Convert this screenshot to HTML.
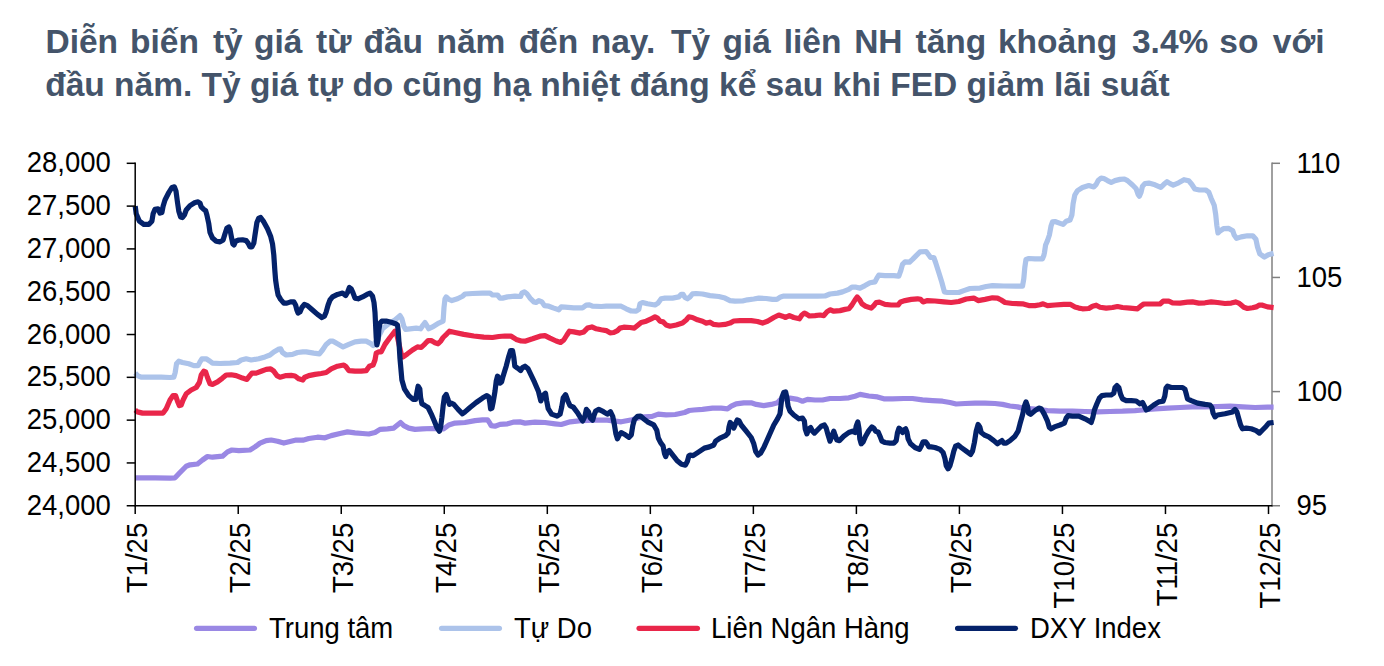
<!DOCTYPE html><html><head><meta charset="utf-8"><title>chart</title><style>
html,body{margin:0;padding:0;background:#fff;}
body{width:1384px;height:666px;overflow:hidden;position:relative;font-family:"Liberation Sans",sans-serif;}
.t{position:absolute;left:45.2px;width:1280px;color:#44546a;font-weight:bold;font-size:33.5px;line-height:44px;white-space:nowrap}
.t1{top:19.5px;width:1279px;text-align:justify;text-align-last:justify;white-space:pre-wrap}
.t2{top:62.7px;}
svg{position:absolute;left:0;top:0}
svg text{font-family:"Liberation Sans",sans-serif;font-size:28.8px;fill:#000}

</style></head><body>
<div class="t t1"><span style="position:relative;left:0.25px">Diễn</span> <span style="position:relative;left:-0.75px">biến</span> <span style="position:relative;left:0.25px">tỷ</span> <span style="position:relative;left:-1.5px">giá</span> <span style="position:relative;left:-0.75px">từ</span> <span style="position:relative;left:-1.75px">đầu</span> <span style="position:relative;left:-1.25px">năm</span> <span style="position:relative;left:-1px">đến</span> <span style="position:relative;left:-1.5px">nay.</span> <span style="position:relative;left:1.25px">Tỷ</span> <span style="position:relative;left:0.75px">giá</span> <span style="position:relative;left:0.5px">liên</span> <span style="position:relative;left:0.25px">NH</span> <span style="position:relative;left:0.25px">tăng</span> <span style="position:relative;left:-1px">khoảng</span> <span style="position:relative;left:0.9px">3.4%</span> <span style="position:relative;left:-1.1px">so</span> <span style="position:relative;left:0.3px">với</span></div>
<div class="t t2">đầu năm. Tỷ giá tự do cũng hạ nhiệt đáng kể sau khi FED giảm lãi suất</div>
<svg width="1384" height="666" viewBox="0 0 1384 666">
<g stroke="#808080" stroke-width="1.5" fill="none">
<path d="M1272.0,162.55 V506.5"/>
<path d="M1272.0,163.30 H1280.0"/>
<path d="M1272.0,277.45 H1280.0"/>
<path d="M1272.0,391.60 H1280.0"/>
<path d="M1272.0,505.75 H1280.0"/>
</g>
<path d="M135.2,477.8 L155.0,477.8 L170.0,478.1 L175.0,477.8 L180.0,472.5 L186.2,466.2 L190.0,464.8 L197.5,464.0 L202.5,460.0 L207.5,456.5 L212.5,457.2 L222.5,456.2 L227.5,451.9 L231.9,450.0 L238.8,450.6 L250.0,450.0 L255.0,446.9 L260.0,443.1 L266.2,440.6 L271.2,440.0 L277.5,441.2 L283.8,443.1 L290.0,441.5 L296.2,440.0 L302.9,440.2 L308.8,438.5 L317.5,437.2 L325.0,437.8 L331.2,435.6 L340.0,433.5 L347.5,431.9 L355.0,432.8 L362.5,433.5 L368.8,434.0 L375.0,432.5 L380.0,429.4 L387.5,428.8 L393.8,428.1 L397.5,425.0 L400.6,422.5 L403.8,425.6 L408.8,428.1 L415.0,429.4 L422.5,428.8 L431.2,428.5 L438.8,428.8 L443.8,428.8 L448.8,425.0 L455.0,423.1 L465.0,422.5 L475.0,420.6 L482.5,419.8 L487.5,419.8 L489.4,422.5 L491.2,425.6 L495.0,426.2 L500.0,424.4 L507.5,423.8 L513.1,422.2 L520.0,421.9 L525.0,423.1 L535.0,422.2 L545.0,422.5 L555.0,423.8 L561.2,424.5 L570.2,421.8 L581.0,420.7 L594.9,420.2 L607.3,420.2 L621.2,421.8 L632.0,419.8 L641.3,417.2 L652.1,416.4 L658.3,414.1 L666.1,414.8 L675.3,414.5 L684.6,412.5 L689.2,410.5 L693.8,410.0 L702.5,409.4 L712.5,408.1 L721.2,408.1 L727.5,408.8 L731.2,406.2 L736.2,403.8 L743.8,402.8 L751.2,402.8 L756.2,404.4 L763.8,405.6 L771.2,404.4 L777.5,402.8 L780.0,400.0 L785.0,398.5 L790.0,398.1 L797.5,399.4 L802.5,401.2 L807.5,399.4 L815.0,400.0 L822.5,400.0 L830.0,398.5 L840.0,398.5 L848.8,397.8 L855.0,396.2 L860.0,394.4 L868.8,396.0 L877.5,396.9 L883.8,398.8 L892.5,398.8 L903.8,398.5 L912.5,398.5 L922.5,399.8 L932.5,400.6 L942.5,401.2 L950.0,402.5 L956.2,404.0 L965.0,403.5 L975.0,403.1 L985.0,403.1 L995.0,403.5 L1002.5,404.4 L1010.0,406.0 L1017.5,406.9 L1022.5,408.1 L1035.0,409.0 L1047.5,410.6 L1060.0,411.2 L1072.5,411.2 L1085.0,411.5 L1097.5,411.9 L1110.0,411.5 L1122.5,411.2 L1135.0,410.6 L1142.5,410.0 L1155.0,408.8 L1167.5,408.1 L1180.0,407.5 L1192.5,406.9 L1205.0,406.9 L1217.5,406.5 L1230.0,406.2 L1242.5,406.9 L1255.0,407.5 L1267.5,407.2 L1273.6,407.2" fill="none" stroke="#9a88e4" stroke-width="5.2" stroke-linejoin="round" stroke-linecap="butt"/>
<path d="M135.2,373.1 L137.5,375.6 L141.2,377.2 L148.8,377.2 L161.2,377.2 L170.0,377.5 L173.8,377.2 L175.2,372.5 L176.5,363.8 L178.8,361.2 L182.5,362.5 L188.8,363.8 L193.8,365.6 L198.1,365.6 L200.0,361.9 L201.9,358.8 L206.2,358.8 L210.0,361.2 L212.5,363.1 L220.0,363.5 L230.0,363.1 L237.5,362.5 L241.2,360.0 L246.2,358.8 L251.2,360.0 L258.8,358.8 L265.0,356.9 L270.0,355.0 L273.8,351.9 L278.1,349.4 L280.6,348.8 L282.5,352.5 L286.2,355.0 L292.5,354.4 L297.5,352.5 L302.9,351.9 L306.2,351.9 L313.8,353.1 L319.4,353.8 L322.5,350.0 L326.2,344.4 L330.0,341.2 L333.1,341.2 L337.5,343.8 L343.1,346.9 L348.8,344.4 L355.0,341.9 L361.2,341.2 L366.2,341.2 L370.0,343.1 L373.1,345.6 L377.5,338.8 L382.5,328.8 L388.8,323.8 L395.0,320.0 L400.0,315.6 L401.9,318.8 L403.8,326.2 L405.6,329.4 L410.0,328.8 L416.2,328.1 L420.6,328.8 L423.1,325.0 L425.0,322.5 L426.9,325.6 L428.8,328.8 L432.5,326.9 L438.8,323.1 L443.1,321.2 L444.0,307.5 L445.0,298.8 L446.2,296.9 L448.8,299.4 L451.9,300.6 L457.5,298.8 L462.5,296.2 L465.0,294.0 L472.5,293.5 L482.5,293.2 L490.0,293.1 L492.5,295.0 L497.5,295.0 L500.0,298.1 L502.5,298.1 L507.5,296.9 L515.0,296.2 L520.6,296.5 L521.9,293.1 L524.4,291.9 L526.9,293.8 L530.0,298.1 L533.8,301.9 L536.2,302.5 L538.8,300.6 L541.9,301.9 L544.4,305.6 L548.8,306.2 L553.8,308.1 L558.8,309.8 L561.2,306.9 L565.0,307.2 L573.8,307.8 L582.5,307.8 L586.2,305.2 L589.4,304.8 L592.5,306.2 L601.2,306.5 L606.2,306.2 L615.0,306.0 L621.2,306.2 L626.2,308.8 L631.2,311.0 L636.2,311.2 L638.8,309.4 L640.0,303.8 L642.5,302.5 L647.5,303.8 L655.0,305.0 L658.1,303.1 L661.2,298.8 L665.0,298.1 L672.5,298.1 L678.8,296.9 L681.2,294.4 L683.1,294.4 L685.0,297.5 L687.5,298.8 L690.0,296.9 L692.5,293.8 L696.2,293.5 L702.5,294.0 L710.0,295.6 L718.8,296.5 L725.0,298.1 L730.0,300.6 L735.0,301.2 L742.5,301.0 L747.5,299.8 L753.8,299.0 L758.8,298.1 L766.2,298.5 L772.5,299.4 L776.9,299.4 L780.6,296.9 L783.8,296.0 L793.8,296.2 L806.2,296.0 L817.5,296.2 L825.0,296.0 L830.0,294.0 L837.5,293.1 L842.5,291.9 L848.8,289.4 L851.9,287.2 L856.2,287.2 L860.0,288.1 L865.0,285.6 L870.0,282.8 L875.0,281.9 L876.9,278.1 L878.8,275.2 L885.0,275.6 L893.8,275.6 L898.8,276.2 L900.6,271.2 L902.5,264.4 L905.0,261.9 L909.4,262.2 L912.5,259.4 L916.2,255.6 L920.0,251.9 L926.2,251.5 L928.8,255.0 L930.6,257.5 L933.8,257.5 L935.6,262.5 L938.8,272.5 L941.9,282.5 L944.4,291.9 L947.5,292.5 L958.8,292.5 L963.8,290.6 L970.0,288.5 L980.0,288.1 L986.2,286.5 L992.5,285.6 L1003.8,286.0 L1016.2,286.2 L1022.5,286.2 L1023.8,278.8 L1024.8,267.5 L1026.0,259.4 L1028.8,258.5 L1035.0,258.8 L1042.5,258.8 L1043.8,255.6 L1044.4,253.0 L1045.6,245.0 L1047.5,240.6 L1049.4,235.0 L1051.0,226.2 L1052.5,221.9 L1055.0,221.5 L1059.4,223.1 L1063.1,224.4 L1066.2,221.2 L1070.0,220.0 L1071.9,215.0 L1073.1,203.8 L1074.8,195.0 L1077.5,190.6 L1082.5,187.5 L1088.8,185.6 L1093.8,186.9 L1096.2,184.4 L1098.1,180.6 L1101.2,178.1 L1103.8,178.5 L1107.5,180.6 L1111.2,182.5 L1115.0,180.6 L1120.0,179.4 L1124.4,179.0 L1127.5,180.6 L1132.5,185.0 L1136.2,188.8 L1138.1,194.4 L1139.4,196.2 L1141.0,192.5 L1142.5,186.2 L1145.0,183.5 L1148.8,183.1 L1155.0,184.8 L1160.8,187.4 L1163.9,184.3 L1167.0,181.7 L1170.1,183.6 L1173.2,185.1 L1178.6,182.8 L1184.0,179.7 L1188.7,180.8 L1191.7,184.3 L1194.8,189.0 L1199.5,190.0 L1205.7,190.0 L1208.8,192.1 L1211.1,198.2 L1214.2,205.2 L1215.7,214.5 L1216.8,225.3 L1218.0,233.0 L1220.3,230.7 L1223.4,228.7 L1228.8,228.4 L1232.7,230.7 L1234.3,235.3 L1236.6,238.4 L1241.2,236.9 L1247.4,235.8 L1252.8,235.8 L1255.9,239.2 L1257.5,246.9 L1259.8,253.9 L1264.4,257.0 L1268.3,254.7 L1273.6,253.4" fill="none" stroke="#acc3ea" stroke-width="5.2" stroke-linejoin="round" stroke-linecap="butt"/>
<path d="M135.2,410.0 L137.5,411.9 L142.5,413.1 L155.0,413.1 L163.1,413.1 L166.2,408.8 L170.0,400.0 L173.1,395.6 L175.6,395.6 L177.5,401.2 L179.4,405.6 L181.2,405.0 L183.1,400.0 L186.2,393.8 L191.2,390.0 L196.2,387.5 L199.4,382.5 L201.2,375.0 L203.8,371.2 L205.6,371.9 L207.5,377.5 L210.0,383.8 L212.5,384.4 L217.5,381.9 L222.5,378.1 L226.2,375.0 L231.2,374.8 L236.2,375.6 L242.5,378.1 L246.9,379.4 L249.4,376.2 L251.9,373.1 L256.2,373.1 L261.2,371.2 L266.2,369.4 L270.6,368.8 L273.8,371.2 L276.9,375.6 L280.0,377.2 L286.2,375.6 L291.2,375.4 L295.0,376.0 L298.8,378.8 L302.9,380.0 L304.4,377.5 L308.8,375.6 L315.0,374.4 L321.2,373.5 L326.2,372.5 L331.2,368.8 L337.5,366.2 L343.8,365.0 L346.2,366.9 L348.8,370.6 L355.0,371.2 L361.2,371.2 L366.2,370.6 L369.4,366.2 L373.1,365.0 L375.0,360.0 L376.2,353.1 L378.8,351.9 L381.2,351.9 L385.0,344.4 L390.0,337.5 L395.0,331.2 L396.9,335.0 L401.2,353.8 L403.1,356.9 L407.5,353.8 L412.5,350.0 L417.5,346.9 L421.2,347.5 L425.0,343.8 L428.1,340.6 L431.2,340.6 L435.0,342.8 L438.1,343.8 L440.6,341.2 L443.1,337.5 L446.9,333.8 L449.4,331.2 L455.0,332.5 L463.8,334.4 L473.8,336.0 L483.8,337.2 L492.5,337.5 L498.8,336.5 L505.0,336.0 L511.2,336.2 L516.2,339.4 L521.2,341.0 L525.0,341.2 L532.5,338.8 L540.0,336.2 L545.0,335.6 L550.0,338.1 L556.2,341.0 L560.6,342.5 L563.8,340.0 L566.9,335.0 L569.4,331.2 L573.8,331.9 L580.0,333.1 L583.8,331.9 L587.5,328.1 L591.9,326.9 L596.2,328.8 L601.2,329.8 L602.5,330.0 L606.2,330.6 L610.0,332.8 L613.8,332.5 L617.5,330.6 L620.0,328.1 L623.8,327.2 L630.0,327.5 L634.4,328.1 L637.5,325.6 L641.2,322.5 L646.2,321.2 L651.2,318.8 L655.0,316.9 L657.5,318.1 L660.0,321.2 L663.1,321.9 L666.2,325.0 L670.0,326.2 L676.2,325.0 L682.5,323.1 L686.2,320.0 L688.8,316.9 L692.5,317.5 L697.5,319.8 L702.5,321.2 L706.2,323.1 L710.0,322.2 L713.8,324.4 L718.8,325.0 L725.0,324.4 L730.0,323.1 L733.8,321.0 L740.0,320.6 L751.2,320.6 L757.5,321.5 L762.5,323.1 L767.5,321.2 L773.8,317.5 L778.8,315.0 L782.5,316.2 L785.6,317.5 L789.4,315.6 L793.8,317.5 L799.4,318.8 L801.9,315.0 L804.4,313.1 L806.9,314.4 L809.4,316.0 L815.0,315.6 L820.0,315.0 L823.8,315.6 L826.9,311.9 L830.0,309.8 L833.8,311.2 L840.0,310.6 L845.0,309.4 L848.8,308.8 L851.9,305.0 L855.0,300.0 L857.2,296.9 L859.4,299.4 L861.9,303.8 L865.6,306.2 L871.2,308.1 L873.8,305.6 L876.2,302.5 L879.4,302.2 L885.0,304.4 L891.2,305.0 L898.1,305.0 L900.6,301.9 L905.0,300.6 L911.2,299.4 L917.5,298.8 L920.6,299.4 L923.1,301.9 L927.5,300.6 L935.0,301.0 L943.8,301.9 L951.2,302.5 L958.8,301.5 L966.2,299.0 L973.8,298.1 L978.1,300.6 L985.0,299.4 L992.5,297.8 L997.5,298.1 L1001.2,300.0 L1005.0,302.5 L1012.5,303.5 L1022.5,303.8 L1028.8,305.6 L1035.0,305.6 L1040.0,304.8 L1043.1,303.8 L1047.5,305.6 L1055.0,305.0 L1063.8,304.4 L1070.6,304.4 L1075.0,306.9 L1078.8,308.1 L1082.5,308.8 L1088.8,308.5 L1092.5,306.2 L1096.2,305.2 L1100.0,307.2 L1106.2,308.1 L1112.5,307.5 L1117.5,306.5 L1122.5,307.5 L1130.0,308.1 L1137.5,308.8 L1140.6,306.2 L1143.8,304.0 L1151.2,304.0 L1160.0,304.0 L1163.1,301.2 L1168.8,301.2 L1172.5,302.8 L1180.0,303.1 L1187.5,302.2 L1192.5,301.9 L1198.8,303.1 L1205.0,302.8 L1211.2,301.9 L1217.5,302.5 L1225.0,303.5 L1231.2,303.1 L1235.6,301.9 L1238.8,303.1 L1240.0,304.0 L1243.8,307.2 L1247.5,308.5 L1252.5,307.8 L1256.2,306.9 L1259.4,305.0 L1262.5,305.2 L1267.5,306.9 L1273.6,307.6" fill="none" stroke="#e9264a" stroke-width="5.2" stroke-linejoin="round" stroke-linecap="butt"/>
<path d="M135.2,206.2 L136.2,213.8 L139.4,221.2 L143.8,224.4 L148.8,224.4 L151.9,221.2 L153.1,213.8 L155.0,209.4 L158.1,208.8 L160.0,213.1 L161.9,212.5 L163.1,206.2 L165.0,200.0 L168.8,192.5 L171.9,187.5 L174.4,186.9 L176.0,191.2 L177.5,202.5 L178.8,211.2 L180.6,216.9 L182.5,217.5 L184.4,215.0 L186.2,210.0 L190.0,205.6 L195.0,202.5 L198.1,201.9 L200.0,203.1 L201.2,206.9 L203.8,209.4 L205.6,210.6 L206.9,215.0 L208.8,223.8 L210.0,232.5 L212.5,238.1 L216.2,241.2 L220.0,241.9 L223.1,240.0 L225.0,233.8 L226.9,228.1 L228.8,226.9 L230.0,229.4 L231.5,237.5 L232.8,243.8 L234.0,245.0 L235.6,241.2 L238.8,240.0 L242.5,239.8 L246.2,240.6 L248.1,243.1 L250.0,246.9 L251.9,246.9 L253.8,243.1 L255.0,235.0 L256.9,222.5 L258.8,218.1 L260.6,217.5 L263.8,221.9 L267.5,228.8 L270.6,236.2 L272.5,243.8 L273.8,255.0 L274.8,270.0 L275.6,280.0 L276.9,288.8 L278.1,295.0 L280.6,299.4 L283.8,303.1 L286.9,303.1 L290.6,301.9 L293.8,301.9 L295.6,305.0 L296.9,310.0 L298.1,313.1 L300.0,311.9 L301.9,307.5 L304.4,304.4 L307.5,305.6 L312.5,310.0 L317.5,314.4 L321.9,317.5 L324.4,316.2 L326.2,311.9 L328.1,305.0 L330.0,300.0 L332.5,296.9 L337.5,294.4 L342.5,293.1 L345.6,295.6 L347.5,292.5 L349.4,287.5 L351.2,288.8 L353.1,293.1 L355.0,298.1 L358.1,298.8 L362.5,296.9 L366.9,294.4 L370.0,293.1 L372.5,296.2 L374.0,302.5 L375.0,312.5 L375.6,325.0 L376.2,337.5 L376.9,345.0 L378.1,340.0 L378.8,330.0 L380.0,323.1 L381.9,321.2 L386.2,321.0 L391.2,322.2 L396.2,324.0 L397.5,325.0 L398.1,330.0 L399.0,342.5 L400.0,358.8 L401.9,380.0 L404.4,388.8 L408.8,395.6 L413.1,399.4 L415.6,399.4 L416.9,392.5 L418.1,386.2 L419.8,388.8 L420.6,397.5 L421.9,403.8 L425.0,405.6 L428.1,407.5 L431.2,413.8 L434.4,421.2 L436.9,427.5 L439.4,431.2 L440.6,427.5 L441.9,417.5 L443.1,406.2 L444.4,396.9 L446.2,394.4 L447.8,398.8 L449.4,404.4 L451.2,403.1 L453.8,404.4 L458.1,409.4 L462.5,413.8 L465.0,411.9 L470.0,407.5 L476.2,402.5 L482.5,398.1 L486.9,395.6 L488.8,396.9 L489.8,402.5 L490.6,408.8 L491.9,408.1 L493.1,402.5 L495.0,391.2 L496.2,381.2 L497.5,376.2 L498.8,377.5 L500.0,383.1 L501.6,381.9 L503.1,376.2 L505.0,370.0 L506.2,366.2 L508.8,356.2 L510.6,350.6 L512.5,350.6 L513.8,357.5 L514.8,366.2 L517.5,368.1 L520.6,370.6 L522.5,367.5 L525.0,366.2 L528.1,368.8 L534.6,382.4 L538.5,391.6 L540.8,400.9 L543.1,395.5 L545.5,393.2 L546.7,400.9 L548.2,408.7 L551.6,414.1 L557.1,416.1 L560.1,414.1 L561.7,407.1 L563.2,397.8 L565.6,394.7 L567.9,400.9 L569.9,405.6 L573.3,407.1 L577.9,413.3 L582.6,421.0 L584.9,416.4 L586.4,409.4 L588.4,411.7 L590.3,417.9 L592.6,420.2 L594.2,414.8 L595.7,411.0 L598.8,409.4 L603.4,411.7 L607.3,414.1 L610.4,411.7 L612.7,416.4 L614.3,424.1 L615.8,433.4 L617.4,438.8 L619.4,434.9 L621.2,432.6 L624.3,434.2 L628.9,437.3 L631.3,434.9 L632.8,425.7 L634.4,419.5 L637.5,416.4 L640.5,416.1 L643.6,418.7 L647.5,421.8 L653.7,424.9 L656.8,430.3 L658.3,438.0 L660.6,442.7 L663.0,445.8 L664.5,453.5 L665.7,456.6 L667.3,451.9 L669.1,450.4 L672.2,454.3 L676.9,460.4 L681.5,464.3 L685.4,465.1 L687.4,461.2 L688.9,455.8 L690.0,455.0 L693.1,455.6 L698.8,451.9 L704.4,448.1 L709.4,446.9 L713.8,445.0 L715.6,441.2 L720.0,438.1 L725.6,435.6 L728.1,433.1 L729.0,426.9 L730.2,422.5 L731.9,424.4 L733.8,428.1 L735.6,423.8 L737.2,420.0 L739.0,420.6 L741.2,425.0 L746.2,431.2 L751.2,437.5 L753.8,443.8 L755.6,451.2 L758.1,455.0 L760.6,453.1 L763.8,447.5 L768.8,436.2 L773.8,425.0 L777.5,418.8 L780.0,413.8 L781.9,397.5 L783.8,392.5 L785.6,391.9 L786.9,397.5 L788.1,406.2 L790.0,411.2 L793.8,415.0 L798.8,418.8 L802.5,418.1 L804.4,421.2 L805.2,428.8 L806.9,433.8 L808.8,428.8 L810.6,427.5 L812.5,431.2 L814.4,433.1 L817.5,430.0 L821.2,426.2 L824.4,425.0 L826.2,428.1 L828.1,435.0 L830.0,441.2 L831.9,436.2 L833.8,431.2 L835.0,435.0 L836.9,440.0 L839.4,440.6 L843.8,436.2 L848.8,432.5 L852.5,431.2 L855.0,432.5 L856.2,426.2 L857.8,421.9 L859.0,428.8 L859.8,438.8 L861.2,443.8 L863.1,441.9 L865.6,436.2 L868.8,430.6 L871.9,426.9 L873.8,428.1 L875.6,431.2 L878.1,431.9 L880.0,436.2 L881.9,441.2 L885.0,442.5 L890.0,443.1 L893.8,443.1 L896.2,440.6 L897.5,432.5 L899.0,428.1 L900.6,429.4 L902.5,432.5 L903.8,430.0 L905.6,428.8 L906.9,431.9 L908.1,438.8 L910.6,443.8 L915.0,447.5 L919.4,449.4 L921.2,446.2 L923.1,441.9 L925.6,441.9 L927.5,444.4 L928.8,446.9 L931.2,446.9 L935.0,447.5 L940.0,449.4 L943.1,452.5 L945.0,458.8 L946.2,465.6 L948.1,468.8 L950.0,465.6 L951.9,458.8 L953.8,451.2 L955.6,446.2 L958.1,445.0 L961.2,447.5 L966.2,451.2 L970.6,454.4 L972.5,451.2 L974.4,442.5 L976.2,431.2 L978.1,424.4 L979.8,426.9 L981.2,432.5 L984.4,435.0 L988.8,436.9 L993.8,440.6 L997.5,443.8 L1000.0,441.9 L1001.9,440.6 L1003.8,443.1 L1006.2,443.1 L1010.0,440.6 L1015.0,436.2 L1018.1,431.2 L1020.0,423.8 L1022.5,415.0 L1024.4,406.2 L1026.0,401.9 L1027.5,406.2 L1028.5,413.1 L1030.6,414.4 L1035.0,410.6 L1038.8,408.1 L1041.2,408.8 L1044.4,414.4 L1047.5,421.2 L1049.4,427.5 L1051.2,428.8 L1054.4,426.9 L1060.0,425.0 L1064.4,423.1 L1066.2,418.1 L1068.1,415.6 L1072.5,416.2 L1078.8,416.2 L1085.0,418.8 L1089.4,421.2 L1091.2,422.5 L1092.8,417.5 L1094.4,410.0 L1096.9,403.8 L1099.4,398.1 L1101.9,395.6 L1106.2,395.0 L1111.2,395.0 L1113.8,393.1 L1115.0,387.5 L1116.9,385.6 L1118.8,387.5 L1120.6,394.4 L1122.5,398.8 L1126.2,400.6 L1131.2,400.6 L1136.2,401.0 L1140.0,403.8 L1142.5,402.5 L1144.4,406.2 L1146.2,410.0 L1148.8,408.8 L1153.8,405.0 L1158.8,401.9 L1163.1,401.2 L1164.8,396.2 L1166.0,388.1 L1167.5,386.2 L1171.2,387.5 L1177.5,387.5 L1182.5,387.5 L1185.0,389.4 L1186.2,393.8 L1187.5,398.8 L1191.2,400.6 L1197.5,403.1 L1205.0,404.4 L1210.0,405.0 L1211.9,407.5 L1213.1,413.1 L1215.0,416.9 L1217.5,415.0 L1225.0,413.8 L1232.5,411.9 L1235.0,409.4 L1236.9,411.9 L1238.8,418.8 L1240.6,425.0 L1242.5,428.8 L1246.2,428.1 L1251.2,428.8 L1256.2,430.6 L1259.4,433.1 L1262.5,430.0 L1266.2,426.2 L1268.8,423.1 L1273.6,422.5" fill="none" stroke="#04226a" stroke-width="5.2" stroke-linejoin="round" stroke-linecap="butt"/>
<g stroke="#000" stroke-width="1.5" fill="none">
<path d="M135.2,162.55 V506.5"/>
<path d="M126.69999999999999,505.75 H1272.5"/>
<path d="M126.69999999999999,163.30 H135.2"/>
<path d="M126.69999999999999,206.11 H135.2"/>
<path d="M126.69999999999999,248.91 H135.2"/>
<path d="M126.69999999999999,291.72 H135.2"/>
<path d="M126.69999999999999,334.52 H135.2"/>
<path d="M126.69999999999999,377.33 H135.2"/>
<path d="M126.69999999999999,420.14 H135.2"/>
<path d="M126.69999999999999,462.94 H135.2"/>
<path d="M135.20,505.75 V514.05"/>
<path d="M238.23,505.75 V514.05"/>
<path d="M341.25,505.75 V514.05"/>
<path d="M444.28,505.75 V514.05"/>
<path d="M547.31,505.75 V514.05"/>
<path d="M650.34,505.75 V514.05"/>
<path d="M753.36,505.75 V514.05"/>
<path d="M856.39,505.75 V514.05"/>
<path d="M959.42,505.75 V514.05"/>
<path d="M1062.45,505.75 V514.05"/>
<path d="M1165.47,505.75 V514.05"/>
<path d="M1268.50,505.75 V514.05"/>
</g>
<text transform="translate(110.80,172.30) scale(0.955,1)" text-anchor="end">28,000</text>
<text transform="translate(110.80,215.11) scale(0.955,1)" text-anchor="end">27,500</text>
<text transform="translate(110.80,257.91) scale(0.955,1)" text-anchor="end">27,000</text>
<text transform="translate(110.80,300.72) scale(0.955,1)" text-anchor="end">26,500</text>
<text transform="translate(110.80,343.52) scale(0.955,1)" text-anchor="end">26,000</text>
<text transform="translate(110.80,386.33) scale(0.955,1)" text-anchor="end">25,500</text>
<text transform="translate(110.80,429.14) scale(0.955,1)" text-anchor="end">25,000</text>
<text transform="translate(110.80,471.94) scale(0.955,1)" text-anchor="end">24,500</text>
<text transform="translate(110.80,514.75) scale(0.955,1)" text-anchor="end">24,000</text>
<text transform="translate(1296.50,172.60) scale(0.955,1)">110</text>
<text transform="translate(1296.50,286.75) scale(0.955,1)">105</text>
<text transform="translate(1296.50,400.90) scale(0.955,1)">100</text>
<text transform="translate(1296.50,515.05) scale(0.955,1)">95</text>
<text transform="translate(146.90,522.80) rotate(-90) scale(0.955,1)" text-anchor="end">T1/25</text>
<text transform="translate(249.93,522.80) rotate(-90) scale(0.955,1)" text-anchor="end">T2/25</text>
<text transform="translate(352.95,522.80) rotate(-90) scale(0.955,1)" text-anchor="end">T3/25</text>
<text transform="translate(455.98,522.80) rotate(-90) scale(0.955,1)" text-anchor="end">T4/25</text>
<text transform="translate(559.01,522.80) rotate(-90) scale(0.955,1)" text-anchor="end">T5/25</text>
<text transform="translate(662.04,522.80) rotate(-90) scale(0.955,1)" text-anchor="end">T6/25</text>
<text transform="translate(765.06,522.80) rotate(-90) scale(0.955,1)" text-anchor="end">T7/25</text>
<text transform="translate(868.09,522.80) rotate(-90) scale(0.955,1)" text-anchor="end">T8/25</text>
<text transform="translate(971.12,522.80) rotate(-90) scale(0.955,1)" text-anchor="end">T9/25</text>
<text transform="translate(1074.15,522.80) rotate(-90) scale(0.955,1)" text-anchor="end">T10/25</text>
<text transform="translate(1177.17,522.80) rotate(-90) scale(0.955,1)" text-anchor="end">T11/25</text>
<text transform="translate(1280.20,522.80) rotate(-90) scale(0.955,1)" text-anchor="end">T12/25</text>
<path d="M196.6,628.3 H254.4" stroke="#9a88e4" stroke-width="5.3" stroke-linecap="round"/>
<text transform="translate(269.00,637.90) scale(0.955,1)">Trung tâm</text>
<path d="M441.6,628.3 H499.4" stroke="#acc3ea" stroke-width="5.3" stroke-linecap="round"/>
<text transform="translate(514.00,637.90) scale(0.955,1)">Tự Do</text>
<path d="M639.1,628.3 H697.4" stroke="#e9264a" stroke-width="5.3" stroke-linecap="round"/>
<text transform="translate(711.00,637.90) scale(0.955,1)">Liên Ngân Hàng</text>
<path d="M957.6,628.3 H1015.4" stroke="#04226a" stroke-width="5.3" stroke-linecap="round"/>
<text transform="translate(1030.00,637.90) scale(0.955,1)">DXY Index</text>
</svg></body></html>
